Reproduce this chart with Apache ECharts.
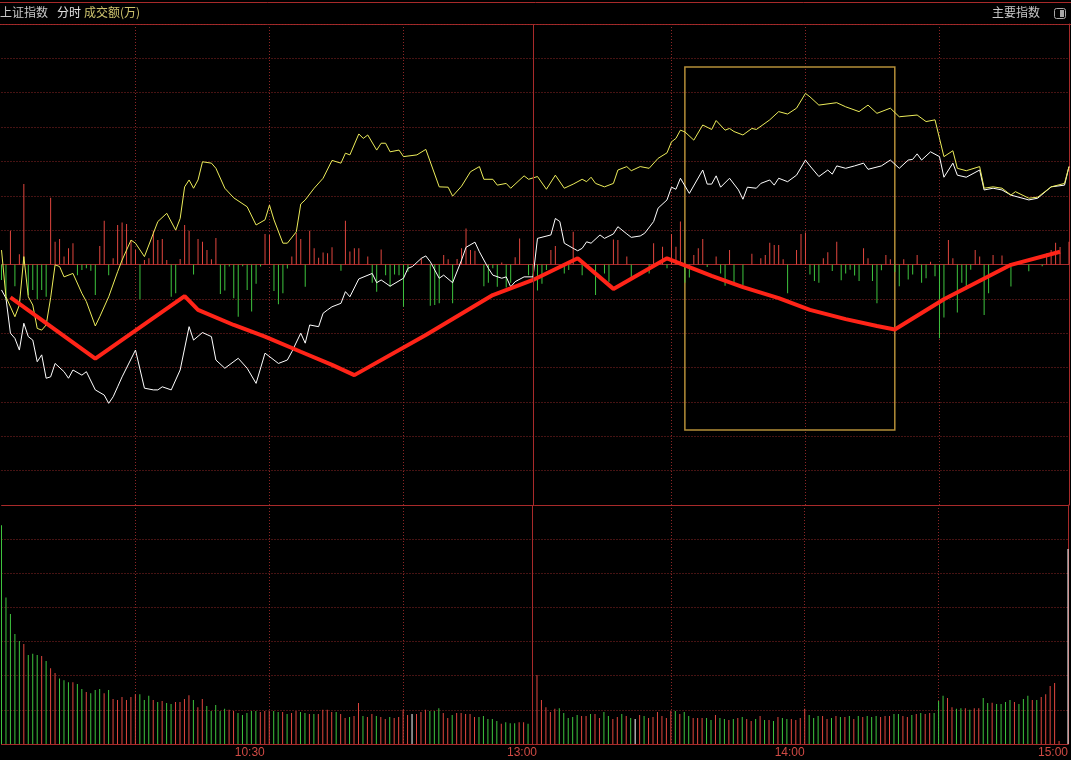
<!DOCTYPE html>
<html><head><meta charset="utf-8">
<script src="https://cdn.jsdelivr.net/npm/echarts@6/dist/echarts.min.js"></script>
<style>html,body{margin:0;padding:0;background:#000;}#c{width:1071px;height:760px;}</style>
</head><body><div id="c"></div>
<script>
// ---- minute slots (240 per day) ----
const N = 240;
const categories = Array.from({length: N}, (_, i) => String(i));

// ---- x tick labels ----
const tickIndex  = [59, 120, 180, 239];
const tickLabels = ['10:30', '13:00', '14:00', '15:00'];
const sessionBreak = 119;

// ---- header texts ----
const headerLeft = ['上证指数', '分时', '成交额(万)'];
const headerRight = '主要指数';

// ---- white line [minute, value] ----
const whiteLine = [[0,-0.74],[1,-0.98],[2,-2.00],[3,-2.15],[4,-2.49],[5,-1.71],[6,-2.10],[7,-2.20],[8,-2.83],[9,-2.63],[10,-3.31],[11,-3.27],[12,-2.88],[14,-3.12],[15,-3.31],[16,-3.07],[18,-3.22],[19,-3.12],[21,-3.65],[23,-3.80],[24,-4.04],[25,-3.85],[26,-3.56],[27,-3.27],[30,-2.49],[32,-3.60],[34,-3.65],[35,-3.65],[36,-3.56],[38,-3.65],[40,-3.07],[42,-1.81],[43,-2.20],[45,-1.98],[47,-2.10],[48,-2.78],[50,-3.02],[53,-2.73],[55,-3.02],[57,-3.46],[59,-2.58],[62,-2.88],[64,-2.78],[65,-2.54],[67,-2.00],[68,-2.29],[69,-1.76],[71,-1.81],[72,-1.42],[73,-1.32],[74,-1.23],[76,-1.13],[77,-0.79],[78,-0.94],[80,-0.42],[83,-0.26],[84,-0.53],[85,-0.45],[87,-0.63],[90,-0.40],[91,-0.11],[92,-0.06],[94,0.18],[95,0.25],[96,0.08],[98,-0.40],[99,-0.31],[101,-0.53],[103,0.13],[104,0.50],[106,0.65],[107,0.37],[109,-0.11],[110,-0.31],[112,-0.40],[113,-0.36],[114,-0.65],[115,-0.50],[117,-0.36],[119,-0.36],[120,0.76],[123,0.86],[124,1.34],[125,1.25],[126,0.62],[128,0.47],[129,0.40],[130,0.47],[131,0.66],[132,0.62],[134,0.86],[135,0.76],[137,0.89],[138,1.10],[140,0.89],[141,0.79],[143,0.83],[144,0.91],[146,1.25],[147,1.64],[149,1.88],[150,2.25],[151,2.19],[152,2.51],[154,2.07],[157,2.75],[158,2.34],[159,2.34],[160,2.58],[161,2.25],[163,2.51],[165,2.17],[166,1.90],[167,2.25],[169,2.22],[170,2.36],[172,2.46],[173,2.31],[174,2.51],[176,2.41],[178,2.60],[180,3.04],[181,2.87],[183,2.56],[185,2.75],[186,2.63],[187,2.87],[189,2.80],[191,2.87],[193,2.95],[194,2.77],[197,2.87],[199,3.04],[201,2.80],[203,3.04],[204,3.06],[205,3.22],[206,3.04],[208,3.28],[210,3.14],[211,2.54],[213,2.95],[214,2.60],[216,2.54],[219,2.75],[220,2.17],[222,2.22],[224,2.17],[226,2.02],[230,1.88],[232,1.93],[235,2.26],[238,2.31],[239,2.85]];

// ---- yellow line [minute, value] ----
const yellowLine = [[0,0.42],[1,-0.94],[3,-1.52],[4,-1.18],[5,0.23],[6,-0.94],[7,-1.18],[8,-1.86],[9,-1.91],[10,-1.76],[11,-0.97],[12,-0.01],[13,-0.06],[14,-0.36],[16,-0.26],[18,-0.84],[19,-1.08],[21,-1.79],[22,-1.52],[24,-0.94],[26,-0.21],[27,0.13],[29,0.71],[30,0.62],[32,0.23],[34,0.91],[35,1.25],[37,1.49],[39,1.00],[40,1.34],[41,2.26],[42,2.46],[43,2.22],[44,2.46],[45,2.99],[47,2.95],[48,2.80],[50,2.22],[52,1.94],[55,1.68],[57,1.15],[59,1.30],[60,1.73],[61,1.30],[63,0.62],[64,0.62],[66,0.95],[67,1.76],[68,1.88],[70,2.22],[72,2.51],[74,3.03],[76,2.95],[77,3.24],[78,3.19],[80,3.80],[81,3.67],[82,3.77],[84,3.33],[85,3.53],[86,3.53],[87,3.28],[89,3.33],[90,3.14],[93,3.19],[95,3.35],[98,2.26],[100,2.25],[101,1.99],[103,2.28],[105,2.70],[107,2.85],[108,2.48],[110,2.48],[111,2.31],[113,2.36],[114,2.22],[117,2.58],[118,2.48],[120,2.56],[122,2.19],[124,2.60],[126,2.22],[128,2.34],[130,2.48],[131,2.41],[132,2.54],[133,2.36],[135,2.26],[137,2.36],[138,2.75],[140,2.85],[141,2.73],[143,2.85],[145,2.80],[147,3.09],[149,3.25],[150,3.57],[151,3.67],[152,3.91],[153,3.86],[155,3.62],[157,4.06],[159,3.93],[160,4.19],[162,3.91],[163,3.96],[164,3.87],[166,3.77],[168,3.96],[169,3.93],[172,4.21],[174,4.45],[176,4.38],[178,4.55],[180,4.98],[181,4.88],[183,4.64],[187,4.71],[189,4.59],[192,4.45],[194,4.64],[196,4.40],[199,4.55],[201,4.30],[205,4.35],[207,4.16],[209,4.21],[211,3.14],[213,3.31],[214,2.80],[216,2.73],[219,2.85],[220,2.22],[222,2.26],[224,2.22],[226,2.02],[227,2.12],[230,1.93],[232,1.96],[235,2.26],[238,2.36],[239,2.85]];

// ---- thick red line [minute, value] ----
const redLine = [[2,-0.96],[21,-2.74],[41,-0.92],[44,-1.32],[52,-1.76],[59,-2.10],[67,-2.54],[74,-2.92],[79,-3.22],[95,-2.05],[110,-0.89],[119,-0.45],[129,0.18],[137,-0.71],[149,0.18],[159,-0.33],[166,-0.66],[174,-0.98],[181,-1.32],[189,-1.59],[196,-1.79],[200,-1.89],[211,-1.01],[226,-0.01],[237,0.37]];

// ---- red/green bars around the middle line [minute, value] ----
const flowBars = [[0,-0.45],[1,-1.03],[2,0.98],[3,-0.63],[4,0.30],[5,2.34],[6,-0.89],[7,-0.74],[8,-1.01],[9,-0.74],[10,-0.94],[11,1.94],[12,0.66],[13,0.74],[14,0.23],[15,0.47],[16,0.62],[17,-0.31],[18,-0.16],[19,-0.11],[20,-0.18],[21,-0.89],[22,0.54],[23,1.27],[24,-0.31],[25,0.18],[26,1.15],[27,1.22],[28,1.18],[29,0.71],[30,0.42],[31,-1.01],[32,0.13],[33,0.18],[34,0.98],[35,0.71],[36,0.74],[37,0.13],[38,-0.94],[39,-0.84],[40,0.16],[41,1.15],[42,0.98],[43,-0.29],[44,0.74],[45,0.66],[46,0.42],[47,0.15],[48,0.77],[49,-0.86],[50,-0.76],[51,-0.06],[52,-0.98],[53,-1.52],[54,-0.05],[55,-0.74],[56,-1.37],[57,-0.56],[58,-0.06],[59,0.89],[60,0.86],[61,-0.77],[62,-1.16],[63,-0.84],[64,-0.12],[65,0.23],[66,0.92],[67,0.74],[68,-0.65],[69,0.98],[70,0.47],[71,0.20],[72,0.35],[73,0.33],[74,0.50],[76,-0.18],[77,1.27],[78,0.38],[79,0.47],[80,0.47],
[82,0.23],[83,-0.53],[84,-0.79],[85,0.44],[86,-0.31],[87,-0.65],[88,-0.29],[89,-0.31],[90,-1.23],[91,-0.21],[94,0.18],[96,-1.20],[97,-1.18],[98,-1.13],[99,0.28],[100,0.15],[101,-1.13],[102,0.16],[103,0.47],[104,1.05],[105,0.42],[106,0.40],[108,-0.63],[109,-0.53],[110,-0.11],[111,-0.65],[112,0.06],[113,-0.67],[114,-0.53],[115,0.21],[116,0.76],[118,-0.31],[119,-0.41],[120,-0.76],[121,-0.56],[122,-0.16],[123,0.42],[124,0.54],[126,-0.26],[127,-0.16],[128,0.95],[130,-0.31],[133,-0.89],[135,-0.26],[136,-0.50],[137,0.73],[138,0.71],[140,0.23],[141,-0.41],[145,-0.26],[146,0.62],[148,0.52],[149,-0.11],[150,0.89],[151,0.52],[152,1.25],[153,-0.53],[154,-0.38],[155,0.28],[156,0.47],[157,0.74],[158,-0.07],
[160,0.23],[161,-0.26],[162,-0.62],[163,0.42],[164,-0.53],[166,-0.62],[168,0.31],[170,0.18],[171,0.28],[172,0.63],[173,0.57],[174,0.57],[175,0.15],[176,-0.84],[178,0.42],[179,0.89],[180,0.93],[181,-0.29],[182,-0.48],[183,-0.53],[184,0.18],[185,0.36],[186,-0.19],[187,0.66],[188,-0.46],[189,-0.26],[190,-0.15],[191,-0.32],[192,-0.48],[193,0.47],[194,0.18],[195,-0.48],[196,-1.13],[197,-0.17],[198,0.28],[199,0.15],[200,-0.22],[201,-0.63],[202,0.15],[203,-0.44],[204,-0.29],[205,0.28],[206,-0.53],[207,-0.40],[208,0.08],[209,-0.34],[210,-2.15],[211,-1.54],[212,0.71],[213,0.18],[214,-1.40],[215,-0.53],[216,-0.73],[217,-0.15],[218,0.42],[219,0.23],[220,-1.47],[221,-0.84],[222,0.28],[224,0.26],[226,-0.64],[230,-0.20],[233,-0.05],[234,0.32],[235,0.42],[236,0.63],[237,0.51],[239,0.66]];

// ---- volume per minute ----
const volume = [6.41,4.29,3.81,3.22,3.02,2.93,2.61,2.64,2.61,2.58,
2.43,2.22,2.08,1.92,1.87,1.81,1.81,1.76,1.61,1.52,
1.49,1.58,1.61,1.49,1.58,1.32,1.29,1.38,1.29,1.38,
1.46,1.46,1.29,1.41,1.29,1.23,1.26,1.20,1.17,1.23,
1.23,1.32,1.43,1.29,1.08,1.32,1.11,0.97,1.14,0.97,
1.03,1.00,0.97,0.91,0.85,0.91,0.97,0.97,0.94,0.97,
0.97,0.97,0.94,0.94,0.88,0.91,0.97,0.94,0.91,0.88,
0.88,0.88,1.00,1.00,0.94,0.94,0.88,0.76,0.79,0.82,
1.20,0.82,0.79,0.88,0.82,0.79,0.73,0.79,0.76,0.79,
1.00,0.85,0.88,0.88,0.94,1.00,0.97,0.97,1.05,0.91,
0.76,0.85,0.91,0.91,0.88,0.88,0.79,0.79,0.82,0.73,
0.73,0.67,0.59,0.64,0.61,0.61,0.64,0.64,0.59,0.61,
2.02,1.29,1.08,0.94,1.03,1.05,0.91,0.76,0.79,0.85,
0.82,0.82,0.88,0.88,0.76,0.94,0.82,0.73,0.79,0.88,
0.82,0.76,0.73,0.85,0.82,0.76,0.79,0.94,0.82,0.76,
0.97,0.97,0.88,0.94,0.82,0.76,0.76,0.76,0.76,0.70,
0.85,0.76,0.73,0.70,0.73,0.76,0.79,0.73,0.67,0.73,
0.82,0.70,0.70,0.67,0.79,0.76,0.73,0.73,0.70,0.76,
1.03,0.85,0.76,0.82,0.82,0.73,0.76,0.82,0.79,0.79,
0.82,0.73,0.82,0.79,0.82,0.79,0.82,0.79,0.82,0.82,
0.88,0.88,0.82,0.79,0.85,0.88,0.91,0.88,0.91,0.91,
1.26,1.41,1.35,1.08,1.03,1.05,1.05,1.00,1.05,1.05,
1.35,1.20,1.21,1.17,1.17,1.23,1.29,1.23,1.17,1.32,
1.41,1.29,1.29,1.38,1.46,1.70,1.79,0.09,0,5.71];
// r = up (red), g = down (green), w = flat (white)
const volumeColor = ('gggggrgggr'+'grrgggrggr'+'gggrgrrrrr'+'rgggrgrggr'+'rrrgrrgggg'+
'grrgggggrr'+'rggrgrrggr'+'grrrrgrrgr'+'rgrrgrrgrr'+'rrwrrrgggr'+
'rgrrrrrggg'+'ggrgggrrgr'+'rrrrrggggg'+'rrgrrggrrg'+'rgwrgrrrrr'+
'rgrggrrrgg'+'rggrgrgrrg'+'rgrgrggrrr'+'rgggrrgrgr'+'grgrgggrrr'+
'ggrrgrgrrg'+'ggrrggrgrr'+'ggrggggrgg'+'grgrrrrrrw').split('');

// ---- annotation box (minute / value corners) ----
const boxFrom = [153, 5.75];
const boxTo   = [200, -4.82];

const COL = {
  up: '#e0463e', down: '#3ec43e', flat: '#ffffff',
  grid: '#8c2626', frame: '#a82a2a', label: '#cf4a44',
  yellow: '#ecec5a', white: '#ffffff', thick: '#ff2418', box: '#b48e38'
};
const volCol = {r: COL.up, g: COL.down, w: COL.flat};

const chart = echarts.init(document.getElementById('c'), null, {renderer: 'canvas'});

const gridLeft = 1.5, gridRight = 2;
const splitIv = (idx) => idx % 30 === 0 && idx !== 0 && idx !== 120;
const dotted = {show: true, lineStyle: {color: COL.grid, width: 1, type: [1, 2]}};

const option = {
  backgroundColor: '#000',
  animation: false,
  grid: [
    {left: gridLeft, right: gridRight, top: 24, height: 481},
    {left: gridLeft, right: gridRight, top: 505, height: 239}
  ],
  xAxis: [
    {type: 'category', gridIndex: 0, data: categories, boundaryGap: false,
     axisLine: {show: true, onZero: true, lineStyle: {color: COL.frame}},
     axisTick: {show: false}, axisLabel: {show: false},
     splitLine: Object.assign({interval: splitIv}, dotted)},
    {type: 'category', gridIndex: 1, data: categories, boundaryGap: false,
     axisLine: {show: true, lineStyle: {color: COL.frame}},
     axisTick: {show: false},
     axisLabel: {show: true, interval: (idx) => tickIndex.includes(idx),
       formatter: (v, idx) => { const k = tickIndex.indexOf(idx); return k >= 0 ? tickLabels[k] : ''; },
       align: 'right', margin: 3, color: COL.label, fontSize: 12, fontFamily: 'Liberation Sans, Arial, sans-serif'},
     splitLine: Object.assign({interval: splitIv}, dotted)}
  ],
  yAxis: [
    {type: 'value', gridIndex: 0, min: -7, max: 7, interval: 1, position: 'right',
     axisLine: {show: true, lineStyle: {color: COL.frame}}, axisTick: {show: false}, axisLabel: {show: false},
     splitLine: dotted},
    {type: 'value', gridIndex: 1, min: 0, max: 7, interval: 1, position: 'right',
     axisLine: {show: true, lineStyle: {color: COL.frame}}, axisTick: {show: false}, axisLabel: {show: false},
     splitLine: dotted}
  ],
  series: [
    {type: 'bar', xAxisIndex: 0, yAxisIndex: 0, barWidth: 1, z: 2,
     data: flowBars.map(d => ({value: d, itemStyle: {color: d[1] >= 0 ? COL.up : COL.down}})),
     markLine: {silent: true, symbol: ['none','none'], label: {show: false},
       lineStyle: {color: COL.frame, type: 'solid', width: 1},
       data: [{xAxis: sessionBreak}]}},
    {type: 'line', xAxisIndex: 0, yAxisIndex: 0, data: whiteLine, symbol: 'none', z: 3,
     lineStyle: {color: COL.white, width: 1}},
    {type: 'line', xAxisIndex: 0, yAxisIndex: 0, data: yellowLine, symbol: 'none', z: 3,
     lineStyle: {color: COL.yellow, width: 1}},
    {type: 'line', xAxisIndex: 0, yAxisIndex: 0, data: redLine, symbol: 'none', z: 4,
     lineStyle: {color: COL.thick, width: 4}},
    {type: 'line', xAxisIndex: 0, yAxisIndex: 0, data: [], z: 6,
     markArea: {silent: true, itemStyle: {color: 'rgba(0,0,0,0)', borderColor: COL.box, borderWidth: 1.5},
       data: [[{xAxis: boxFrom[0], yAxis: boxFrom[1]}, {xAxis: boxTo[0], yAxis: boxTo[1]}]]}},
    {type: 'bar', xAxisIndex: 1, yAxisIndex: 1, barWidth: 1, z: 2,
     data: volume.map((v, i) => ({value: v, itemStyle: {color: volCol[volumeColor[i]]}})),
     markLine: {silent: true, symbol: ['none','none'], label: {show: false},
       lineStyle: {color: COL.frame, type: 'solid', width: 1},
       data: [{xAxis: sessionBreak}, {yAxis: 7}]}}
  ],
  graphic: [
    {type: 'line', shape: {x1: 0, y1: 2.5, x2: 1071, y2: 2.5}, style: {stroke: COL.frame, lineWidth: 1}},
    {type: 'line', shape: {x1: 0, y1: 24.5, x2: 1071, y2: 24.5}, style: {stroke: COL.frame, lineWidth: 1}},
    {type: 'text', left: 0, top: 6, style: {text: headerLeft[0], fill: '#c8c8c8', font: '12px "Noto Sans CJK SC"'}},
    {type: 'text', left: 57, top: 6, style: {text: headerLeft[1], fill: '#e2e2e2', font: '12px "Noto Sans CJK SC"'}},
    {type: 'text', left: 84, top: 6, style: {text: headerLeft[2], fill: '#cfc46e', font: '12px "Noto Sans CJK SC"'}},
    {type: 'text', left: 992, top: 6, style: {text: headerRight, fill: '#c8c8c8', font: '12px "Noto Sans CJK SC"'}},
    {type: 'rect', shape: {x: 1054.5, y: 8.5, width: 11, height: 10, r: 2}, style: {fill: 'none', stroke: '#a8a8a8', lineWidth: 1}},
    {type: 'rect', shape: {x: 1060, y: 10, width: 4, height: 7}, style: {fill: '#a8a8a8'}}
  ]
};
chart.setOption(option);
</script>
</body></html>
